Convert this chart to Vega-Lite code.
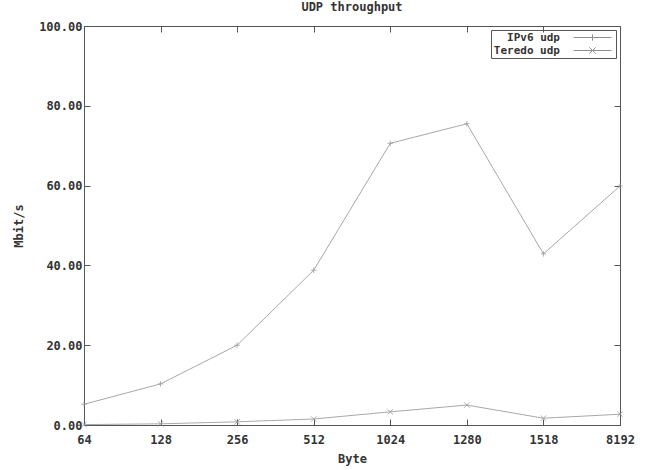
{
  "$schema": "https://vega.github.io/schema/vega-lite/v6.json",
  "width": 536,
  "height": 399,
  "autosize": "none",
  "padding": {"left": 84, "top": 26, "right": 37, "bottom": 45},
  "background": "white",
  "title": {"text": "UDP throughput", "offset": 6, "fontSize": 12, "font": "DejaVu Sans Mono", "fontWeight": "bold", "color": "#333333"},
  "config": {
    "view": {"stroke": "#555555", "strokeWidth": 1},
    "axis": {"labelFont": "DejaVu Sans Mono", "labelFontWeight": "bold", "labelFontSize": 12, "labelColor": "#333333", "titleFont": "DejaVu Sans Mono", "titleFontWeight": "bold", "titleFontSize": 12, "titleColor": "#333333", "grid": false, "domain": false, "tickColor": "#555555"},
    "legend": {"labelFont": "DejaVu Sans Mono", "labelFontWeight": "bold", "labelFontSize": 11, "labelColor": "#333333"}
  },
  "data": {"values": [
    {"size": "64", "series": "IPv6 udp", "mbit": 5.2},
    {"size": "128", "series": "IPv6 udp", "mbit": 10.3},
    {"size": "256", "series": "IPv6 udp", "mbit": 20.0},
    {"size": "512", "series": "IPv6 udp", "mbit": 38.8},
    {"size": "1024", "series": "IPv6 udp", "mbit": 70.6},
    {"size": "1280", "series": "IPv6 udp", "mbit": 75.5},
    {"size": "1518", "series": "IPv6 udp", "mbit": 42.9},
    {"size": "8192", "series": "IPv6 udp", "mbit": 59.9},
    {"size": "64", "series": "Teredo udp", "mbit": 0.1},
    {"size": "128", "series": "Teredo udp", "mbit": 0.3},
    {"size": "256", "series": "Teredo udp", "mbit": 0.8},
    {"size": "512", "series": "Teredo udp", "mbit": 1.5},
    {"size": "1024", "series": "Teredo udp", "mbit": 3.3},
    {"size": "1280", "series": "Teredo udp", "mbit": 5.0},
    {"size": "1518", "series": "Teredo udp", "mbit": 1.7},
    {"size": "8192", "series": "Teredo udp", "mbit": 2.7}
  ]},
  "layer": [
    {
      "mark": {"type": "line", "color": "#a8a8a8", "strokeWidth": 1},
      "encoding": {
        "x": {"field": "size", "type": "ordinal", "sort": ["64", "128", "256", "512", "1024", "1280", "1518", "8192"], "scale": {"type": "point", "padding": 0}, "axis": {"orient": "bottom", "labelAngle": 0, "tickSize": -6, "labelPadding": 15, "title": "Byte", "titlePadding": 8}},
        "y": {"field": "mbit", "type": "quantitative", "scale": {"domain": [0, 100], "nice": false, "zero": true}, "axis": {"orient": "left", "format": ".2f", "values": [0, 20, 40, 60, 80, 100], "tickSize": -6, "labelPadding": 8, "title": "Mbit/s", "titlePadding": 13}},
        "detail": {"field": "series"}
      }
    },
    {
      "mark": {"type": "point", "filled": false, "color": "#909090", "size": 30, "strokeWidth": 1},
      "encoding": {
        "x": {"field": "size", "type": "ordinal", "sort": ["64", "128", "256", "512", "1024", "1280", "1518", "8192"], "axis": {"orient": "top", "labels": false, "tickSize": -6, "title": null}},
        "y": {"field": "mbit", "type": "quantitative", "axis": {"orient": "right", "labels": false, "values": [0, 20, 40, 60, 80, 100], "tickSize": -6, "title": null}},
        "shape": {"field": "series", "type": "nominal", "scale": {"domain": ["IPv6 udp", "Teredo udp"], "range": ["M-1,0H1M0,-1V1", "M-1,-1L1,1M-1,1L1,-1"]}, "legend": null}
      }
    },
    {
      "mark": {"type": "point", "filled": false, "color": "#909090", "opacity": 0, "size": 40},
      "encoding": {
        "x": {"field": "size", "type": "ordinal", "sort": ["64", "128", "256", "512", "1024", "1280", "1518", "8192"], "axis": null},
        "y": {"field": "mbit", "type": "quantitative", "axis": null},
        "shape": {"field": "series", "type": "nominal", "scale": {"domain": ["IPv6 udp", "Teredo udp"], "range": ["M-6,0H6M0,-1V1", "M-6,0H6M-1,-1L1,1M-1,1L1,-1"]}, "legend": {"title": null, "orient": "top-right", "offset": 4, "strokeColor": "#555555", "padding": 2, "rowPadding": 1, "symbolOpacity": 1, "symbolStrokeColor": "#909090", "symbolFillColor": "transparent", "symbolStrokeWidth": 1, "symbolSize": 40, "labelAlign": "right", "labelOffset": -38, "symbolOffset": 94}}
      }
    }
  ],
  "resolve": {"scale": {"shape": "independent"}, "axis": {"x": "independent", "y": "independent"}}
}
